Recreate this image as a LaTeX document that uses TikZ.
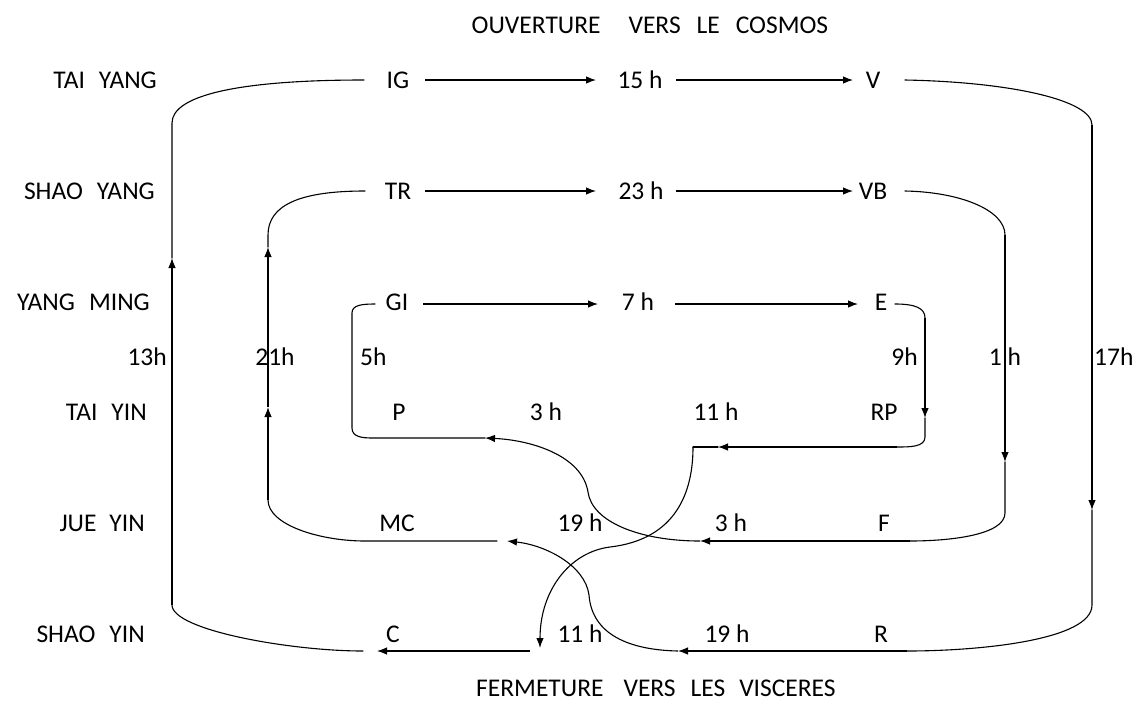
\documentclass[tikz,border=0pt]{standalone}
\usepackage{fontspec}
\setmainfont{Carlito}
\usetikzlibrary{arrows.meta}
\begin{document}
\begin{tikzpicture}[x=1pt,y=-1pt,
  lbl/.style={font=\fontsize{25.5}{30}\selectfont, inner sep=0pt, text height=16pt, text depth=0pt},
  ln/.style={line width=1.1pt, line cap=round},
  arr/.style={line width=1.1pt, -{Latex[length=10pt,width=7.5pt]}}]
\useasboundingbox (0,0) rectangle (1137,702);
% titles
\node[lbl] (top) at (650,25) {OUVERTURE\hspace{28pt}VERS\hspace{16pt}LE\hspace{16pt}COSMOS};
\node[lbl] (bot) at (656,688) {FERMETURE\hspace{20pt}VERS\hspace{15pt}LES\hspace{14pt}VISCERES};
% row labels
\node[lbl,anchor=east] (taiyang) at (157,80) {TAI\hspace{14pt}YANG};
\node[lbl,anchor=east] (shaoyang) at (155,191) {SHAO\hspace{14pt}YANG};
\node[lbl,anchor=east] (yangming) at (150,302) {YANG\hspace{14pt}MING};
\node[lbl,anchor=east] (taiyin) at (147,412) {TAI\hspace{14pt}YIN};
\node[lbl,anchor=east] (jueyin) at (145,523) {JUE\hspace{13pt}YIN};
\node[lbl,anchor=east] (shaoyin) at (145,634) {SHAO\hspace{14pt}YIN};
% meridians and hours
\node[lbl] (IG) at (398,80) {IG};
\node[lbl] (h15) at (640,80) {15 h};
\node[lbl] (V) at (873,80) {V};
\node[lbl] (TR) at (398,191) {TR};
\node[lbl] (h23) at (641,191) {23 h};
\node[lbl] (VB) at (873,191) {VB};
\node[lbl] (GI) at (397,302) {GI};
\node[lbl] (h7) at (638,302) {7 h};
\node[lbl] (E) at (881,302) {E};
\node[lbl,anchor=east] (h13) at (167,357) {13h};
\node[lbl] (h21) at (275,357) {21h};
\node[lbl,anchor=west] (h5) at (360,357) {5h};
\node[lbl,anchor=east] (h9) at (918,357) {9h};
\node[lbl] (h1) at (1005,357) {1 h};
\node[lbl,anchor=west] (h17) at (1094,357) {17h};
\node[lbl] (P) at (399,412) {P};
\node[lbl] (h3a) at (546,412) {3 h};
\node[lbl] (h11a) at (716,412) {11 h};
\node[lbl] (RP) at (884,412) {RP};
\node[lbl] (MC) at (397,523) {MC};
\node[lbl] (h19a) at (580,523) {19 h};
\node[lbl] (h3b) at (731,523) {3 h};
\node[lbl] (F) at (884,523) {F};
\node[lbl] (C) at (393,634) {C};
\node[lbl] (h11b) at (580,634) {11 h};
\node[lbl] (h19b) at (727,634) {19 h};
\node[lbl] (R) at (881,634) {R};
% connector end points
\coordinate (a1s) at (425,80);  \coordinate (a1e) at (596,80);
\coordinate (a2s) at (676,80);  \coordinate (a2e) at (853,80);
\coordinate (b1s) at (425,191); \coordinate (b1e) at (596,191);
\coordinate (b2s) at (676,191); \coordinate (b2e) at (853,191);
\coordinate (c1s) at (423,304); \coordinate (c1e) at (598,304);
\coordinate (c2s) at (675,304); \coordinate (c2e) at (858,304);
\coordinate (vR0) at (905,80);  \coordinate (vR1) at (1092,125);
\coordinate (vRt) at (1092,510); \coordinate (vR2) at (1092,605);
\coordinate (rS) at (907,651);  \coordinate (rT) at (678,651);
\coordinate (mcT) at (507,541); \coordinate (mcE) at (497,541);
\coordinate (mcW) at (365,541); \coordinate (tl1) at (268,500);
\coordinate (tA) at (268,407);  \coordinate (tB) at (268,247);
\coordinate (tl2) at (268,235); \coordinate (trW) at (365,191);
\coordinate (cE) at (530,651);  \coordinate (cT) at (377,651);
\coordinate (cW) at (363,651);  \coordinate (ol1) at (172,605);
\coordinate (olT) at (172,258); \coordinate (ol2) at (172,123);
\coordinate (igW) at (364,80);
\coordinate (vbE) at (905,191); \coordinate (vb1) at (1005,235);
\coordinate (vbT) at (1005,462); \coordinate (vb2) at (1005,513);
\coordinate (fE) at (910,541);  \coordinate (fT) at (700,541);
\coordinate (pT) at (485,438);  \coordinate (pW) at (373,438);
\coordinate (p1) at (352,428);  \coordinate (p2) at (352,313);
\coordinate (giW) at (375,304);
\coordinate (eE) at (895,304);  \coordinate (e1) at (925,318);
\coordinate (eT) at (925,418);  \coordinate (e2) at (925,437);
\coordinate (rpE) at (897,447); \coordinate (rpT) at (718,447);
\coordinate (k) at (693,447);   \coordinate (c11T) at (540,648);
% horizontal rows
\draw[arr] (a1s) -- (a1e); \draw[arr] (a2s) -- (a2e);
\draw[arr] (b1s) -- (b1e); \draw[arr] (b2s) -- (b2e);
\draw[arr] (c1s) -- (c1e); \draw[arr] (c2s) -- (c2e);
% outer right loop V -> R
\draw[ln] (vR0) .. controls (1010,82) and (1092,100) .. (vR1);
\draw[arr] (vR1) -- (vRt);
\draw[ln] (vRt) -- (vR2) .. controls (1092,640) and (980,651) .. (rS);
\draw[arr] (rS) -- (rT);
% R -> MC crossing curve
\draw[arr] (rT) .. controls (630,650) and (592,635) .. (589,595)
  .. controls (585,565) and (545,545) .. (mcT);
% MC -> TR
\draw[ln] (mcE) -- (mcW) .. controls (320,541) and (268,525) .. (tl1);
\draw[arr] (tl1) -- (tA);
\draw[arr] (tA) -- (tB);
\draw[ln] (tB) -- (tl2) .. controls (268,205) and (300,191) .. (trW);
% C -> IG outer left
\draw[arr] (cE) -- (cT);
\draw[ln] (cW) .. controls (290,651) and (172,630) .. (ol1);
\draw[arr] (ol1) -- (olT);
\draw[ln] (olT) -- (ol2) .. controls (172,95) and (240,80) .. (igW);
% VB -> F
\draw[ln] (vbE) .. controls (960,192) and (1005,210) .. (vb1);
\draw[arr] (vb1) -- (vbT);
\draw[ln] (vbT) -- (vb2) .. controls (1005,535) and (950,541) .. (fE);
\draw[arr] (fE) -- (fT);
% F -> P crossing curve
\draw[arr] (fT) .. controls (640,541) and (592,522) .. (588,492)
  .. controls (582,455) and (530,440) .. (pT);
% P -> GI
\draw[ln] (pT) -- (pW) .. controls (362,438) and (352,437) .. (p1)
  -- (p2) .. controls (352,305) and (362,304) .. (giW);
% E -> RP -> C
\draw[ln] (eE) .. controls (915,304) and (925,308) .. (e1);
\draw[arr] (e1) -- (eT);
\draw[ln] (eT) -- (e2) .. controls (925,447) and (910,447) .. (rpE);
\draw[arr] (rpE) -- (rpT);
\draw[ln] (rpT) -- (k);
\draw[arr] (k) .. controls (693,500) and (670,540) .. (610,547)
  .. controls (570,552) and (540,590) .. (c11T);
\end{tikzpicture}
\end{document}
